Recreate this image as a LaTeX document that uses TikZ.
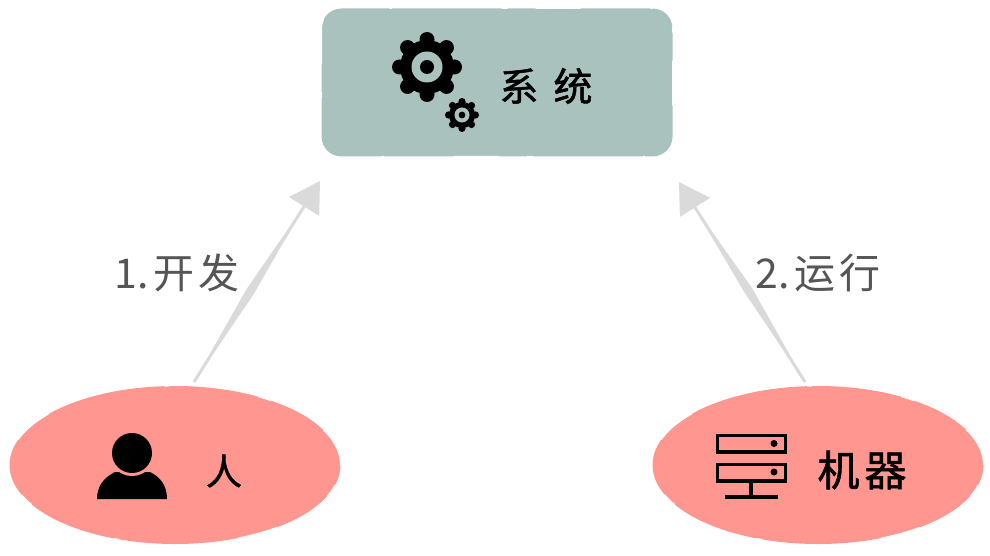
\documentclass[tikz,border=0pt]{standalone}
\usepackage{fontspec}
\setmainfont{Noto Sans CJK SC}
\newfontfamily\titlefont[FakeBold=1.3]{Noto Sans CJK SC}
\usetikzlibrary{arrows.meta,shapes.geometric}
\definecolor{boxfill}{HTML}{A9C2BD}
\definecolor{ovalfill}{HTML}{FF9690}
\definecolor{arrowgrey}{HTML}{DADADA}
\definecolor{labelgrey}{HTML}{555555}
\tikzset{
  x=1pt,y=-1pt,
  sysbox/.style={rectangle,rounded corners=20pt,fill=boxfill,draw=white,line width=1pt,dash pattern=on 2pt off 70pt on 45pt off 28pt on 6pt off 110pt,minimum width=351pt,minimum height=148pt,inner sep=0pt},
  oval/.style={ellipse,fill=ovalfill,draw=white,line width=1pt,dash pattern=on 40pt off 60pt on 14pt off 90pt on 5pt off 120pt,minimum width=331pt,minimum height=158pt,inner sep=0pt},
  arrowline/.style={draw=arrowgrey,line width=3pt,-{Triangle[length=30pt,width=35pt,fill=arrowgrey]}},
  lens/.style={fill=arrowgrey,draw=none},
  title/.style={font=\fontsize{39}{39}\selectfont\titlefont,text=black,inner sep=0pt},
  steplabel/.style={font=\fontsize{41}{41}\selectfont,text=labelgrey,inner sep=0pt},
  gearicon/.pic={
    \fill[black] (0,0) circle (27);
    \foreach \a in {0,45,...,315} \fill[black] (\a:27.5) circle (7.5);
    \fill[boxfill] (0,0) circle (15.5);
    \fill[black] (0,0) circle (7);
  },
  iconline/.style={draw=black,line width=3.4pt,fill=none},
}
\begin{document}
\begin{tikzpicture}
\useasboundingbox (0,0) rectangle (990,556);
% main shapes
\node[sysbox] (sys) at (497,82.5) {};
\node[oval] (person) at (175,465) {};
\node[oval] (machine) at (818,465) {};
% connector free ends
\coordinate (ltail) at (194,382);
\coordinate (ltip) at (320,181);
\coordinate (rtail) at (805,382);
\coordinate (rtip) at (679,182);
% tapered shafts
\fill[lens] (ltail) -- (253.7,294.2) -- (306,203) -- (246.3,289.5) -- cycle;
\fill[lens] (rtail) -- (751.7,287.5) -- (693,205) -- (744.3,292.2) -- cycle;
% connectors
\draw[arrowline] (ltail) -- (ltip);
\draw[arrowline] (rtail) -- (rtip);
% gears
\pic at (427,67) {gearicon};
\pic[scale=0.486] at (462,115) {gearicon};
% person icon
\fill[black] (97,499) .. controls (97,485) and (105,477) .. (115,472) -- (150,472) .. controls (160,477) and (167,485) .. (167,499) -- cycle;
\fill[ovalfill] (132,453) circle (23);
\fill[black] (132,453) circle (20);
% server icon
\draw[iconline] (717.5,435.5) rectangle (785.5,452);
\draw[iconline] (717.5,464.5) rectangle (785.5,481);
\fill[black] (774,443.5) circle (3.5);
\fill[black] (774,472) circle (3.5);
\draw[iconline] (751,481) -- (751,497);
\draw[iconline] (725,497) -- (778,497);
% texts
\node[title] (systext) at (546,86) {系\hspace{15pt}统};
\node[title,font=\fontsize{36}{36}\selectfont\titlefont] (persontext) at (224,471) {人};
\node[title,font=\fontsize{42}{42}\selectfont\titlefont] (machinetext) at (862,470) {机\hspace{5pt}器};
\node[steplabel] (lab1) at (177,273) {1.\hspace{4pt}开\hspace{4pt}发};
\node[steplabel] (lab2) at (818,273) {2.\hspace{4pt}运\hspace{4pt}行};
\end{tikzpicture}
\end{document}
